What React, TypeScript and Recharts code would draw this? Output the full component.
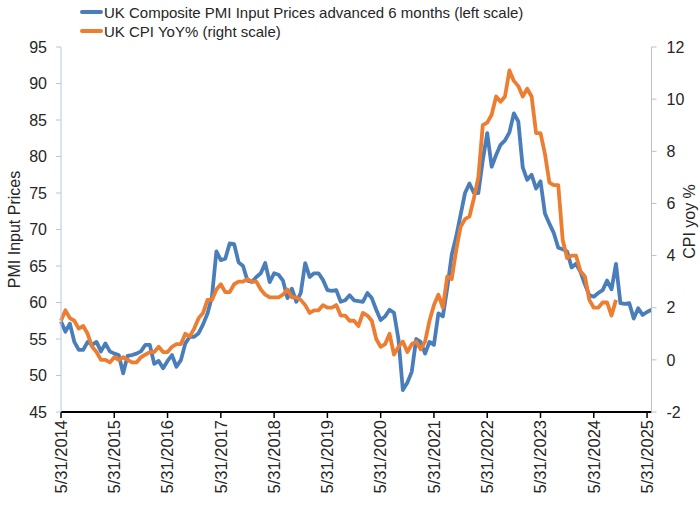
import { LineChart, Line, XAxis, YAxis } from 'recharts';

// x axis: one point per month, May 2014 = 0
const tickLabels = [
  '5/31/2014', '5/31/2015', '5/31/2016', '5/31/2017', '5/31/2018', '5/31/2019',
  '5/31/2020', '5/31/2021', '5/31/2022', '5/31/2023', '5/31/2024', '5/31/2025',
];
const leftTicks = [45, 50, 55, 60, 65, 70, 75, 80, 85, 90, 95];
const rightTicks = [-2, 0, 2, 4, 6, 8, 10, 12];

// UK Composite PMI Input Prices, advanced 6 months (May 2014 .. Jun 2025)
const pmiAdvanced = [
  57.4, 56.0, 57.1, 54.6, 53.5, 53.5, 54.6, 54.2, 54.6, 53.3, 54.4, 53.3,
  53.0, 52.8, 50.3, 52.7, 52.8, 53.0, 53.3, 54.2, 54.2, 51.6, 52.0, 51.0,
  52.0, 52.8, 51.2, 52.1, 54.4, 55.3, 55.3, 55.8, 57.0, 58.5, 60.8, 67.0,
  65.8, 66.0, 68.1, 68.0, 65.5, 65.0, 63.0, 62.8, 63.5, 64.0, 65.4, 62.8,
  64.0, 63.8, 63.0, 60.6, 61.9, 60.1, 61.3, 65.4, 63.5, 64.0, 64.0, 63.1,
  61.7, 61.6, 61.7, 60.1, 60.3, 61.0, 60.3, 60.2, 60.1, 61.3, 60.6, 59.0,
  57.6, 58.1, 59.0, 58.6, 55.0, 48.0, 49.0, 50.5, 55.0, 54.6, 53.0, 54.6,
  54.2, 58.5, 58.1, 62.0, 66.5, 69.0, 72.0, 75.0, 76.3, 75.0, 75.0, 79.5,
  83.2, 78.6, 80.2, 81.6, 82.2, 83.3, 85.9, 84.8, 78.5, 76.8, 77.5, 75.6,
  76.6, 72.2, 70.8, 69.5, 67.5, 67.3, 67.0, 64.8, 65.3, 64.2, 62.5, 61.0,
  60.8, 61.3, 61.7, 63.0, 61.8, 65.3, 59.9, 59.8, 59.9, 57.8, 59.2, 58.3,
  58.7, 59.0,
];

// UK CPI YoY % (May 2014 .. Oct 2024)
const cpiYoy = [
  1.5, 1.9, 1.6, 1.5, 1.2, 1.3, 1.0, 0.5,
  0.3, 0.0, 0.0, -0.1, 0.1, 0.0, 0.1, 0.0, -0.1, -0.1, 0.1, 0.2,
  0.3, 0.3, 0.5, 0.3, 0.3, 0.5, 0.6, 0.6, 1.0, 0.9, 1.2, 1.6,
  1.8, 2.3, 2.3, 2.7, 2.9, 2.6, 2.6, 2.9, 3.0, 3.0, 3.1, 3.0,
  3.0, 2.7, 2.5, 2.4, 2.4, 2.4, 2.5, 2.7, 2.4, 2.4, 2.3, 2.1,
  1.8, 1.9, 1.9, 2.1, 2.0, 2.0, 2.1, 1.7, 1.7, 1.5, 1.5, 1.3,
  1.8, 1.7, 1.5, 0.8, 0.5, 0.6, 1.0, 0.2, 0.5, 0.7, 0.3, 0.6,
  0.7, 0.4, 0.7, 1.5, 2.1, 2.5, 2.0, 3.2, 3.1, 4.2, 5.1, 5.4,
  5.5, 6.2, 7.0, 9.0, 9.1, 9.4, 10.1, 9.9, 10.1, 11.1, 10.7, 10.5,
  10.1, 10.4, 10.1, 8.7, 8.7, 7.9, 6.8, 6.7, 6.7, 4.6, 3.9, 4.0,
  4.0, 3.4, 3.2, 2.3, 2.0, 2.0, 2.2, 2.2, 1.7, 2.3,
];

const BLUE = '#4a7ebb';
const ORANGE = '#ed7d31';
const TEXT = '#262626';
const FONT = '"Liberation Sans", Arial, sans-serif';

const data = pmiAdvanced.map((v, i) => ({
  t: i,
  pmi: v,
  cpi: i < cpiYoy.length ? cpiYoy[i] : null,
}));
const xTicks = tickLabels.map((_, i) => i * 12);

function DateTick({ x, y, payload }: any) {
  const label = tickLabels[xTicks.indexOf(payload.value)];
  return (
    <text
      x={x}
      y={y}
      transform={`rotate(-90, ${x}, ${y})`}
      textAnchor="end"
      dy="0.35em"
      fontSize={16.5}
      fontFamily={FONT}
      fill={TEXT}
    >
      {label}
    </text>
  );
}

const legendItems = [
  { name: 'UK Composite PMI Input Prices advanced 6 months (left scale)', color: BLUE },
  { name: 'UK CPI YoY% (right scale)', color: ORANGE },
];

const tickStyle = { fontSize: 16, fill: TEXT, fontFamily: FONT };
const titleStyle = { fontSize: 16, fill: TEXT, fontFamily: FONT };

export default function App() {
  return (
    <div style={{ position: 'absolute', left: 0, top: 0, width: 700, height: 508, background: '#fff', fontFamily: FONT }}>
      {/* legend */}
      {legendItems.map((item, i) => (
        <div key={item.name} style={{ position: 'absolute', left: 80, top: 2 + i * 19, height: 20, display: 'flex', alignItems: 'center' }}>
          <div style={{ width: 23, height: 4, borderRadius: 2, background: item.color, marginRight: 1 }} />
          <span style={{ fontSize: 15, color: TEXT, whiteSpace: 'nowrap' }}>{item.name}</span>
        </div>
      ))}

      <LineChart width={700} height={508} data={data} margin={{ top: 47, right: 0, bottom: 0, left: 0 }}>
        <XAxis
          dataKey="t"
          type="number"
          domain={[0, 133]}
          ticks={xTicks}
          interval={0}
          height={96}
          tick={<DateTick />}
          tickSize={6}
          tickMargin={2}
          axisLine={{ stroke: '#000', strokeWidth: 2 }}
          tickLine={{ stroke: '#000', strokeWidth: 1.5 }}
        />
        <YAxis
          yAxisId="left"
          orientation="left"
          domain={[45, 95]}
          ticks={leftTicks}
          interval={0}
          width={61}
          tickSize={5}
          tickMargin={9}
          axisLine={{ stroke: '#b4c7e7' }}
          tickLine={{ stroke: '#b4c7e7' }}
          tick={tickStyle}
          label={{ value: 'PMI Input Prices', angle: -90, position: 'center', dx: -16, style: titleStyle }}
        />
        <YAxis
          yAxisId="right"
          orientation="right"
          domain={[-2, 12]}
          ticks={rightTicks}
          interval={0}
          width={48.5}
          tickSize={5}
          tickMargin={10}
          axisLine={{ stroke: '#bfbfbf' }}
          tickLine={{ stroke: '#bfbfbf' }}
          tick={tickStyle}
          label={{ value: 'CPI yoy %', angle: -90, position: 'center', dx: 14, dy: -8, style: titleStyle }}
        />
        <Line
          yAxisId="left"
          dataKey="pmi"
          type="linear"
          stroke={BLUE}
          strokeWidth={3.8}
          dot={false}
          strokeLinejoin="round"
          isAnimationActive={false}
        />
        <Line
          yAxisId="right"
          dataKey="cpi"
          type="linear"
          stroke={ORANGE}
          strokeWidth={3.8}
          dot={false}
          strokeLinejoin="round"
          isAnimationActive={false}
        />
      </LineChart>
    </div>
  );
}
